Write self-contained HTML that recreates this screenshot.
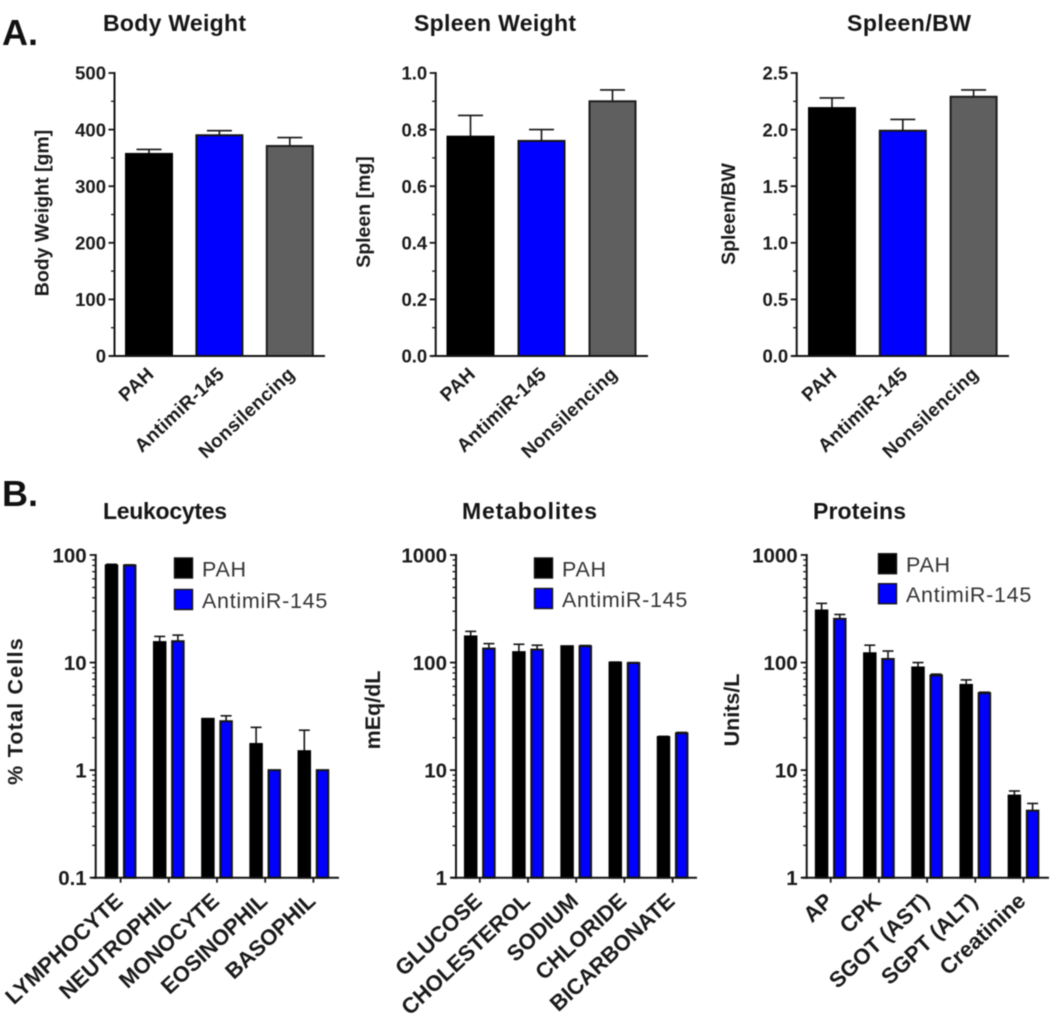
<!DOCTYPE html>
<html lang="en">
<head>
<meta charset="utf-8">
<title>Body and blood measurements</title>
<style>
html,body{margin:0;padding:0;background:#fff;}
svg{display:block;filter:blur(0.55px);font-family:"Liberation Sans",sans-serif;}
.panel{font-weight:700;font-size:36px;fill:#111;}
.title{font-weight:700;font-size:23px;fill:#151515;}
</style>
</head>
<body>
<svg id="figure" width="1050" height="1018" viewBox="0 0 1050 1018" xmlns="http://www.w3.org/2000/svg">
  <text class="panel" x="2" y="45">A.</text>
  <text class="panel" x="2" y="506">B.</text>
  <text class="title" x="103" y="31" textLength="143">Body Weight</text>
  <text class="title" x="414" y="31" textLength="162">Spleen Weight</text>
  <text class="title" x="847" y="31" textLength="124">Spleen/BW</text>
  <text class="title" x="103" y="519" textLength="124">Leukocytes</text>
  <text class="title" x="462" y="519" textLength="135">Metabolites</text>
  <text class="title" x="813" y="519" textLength="93">Proteins</text>
</svg>
<script>
// ---------- Data: panel A ----------
const groupCategories = ['PAH', 'AntimiR-145', 'Nonsilencing'];

const bodyValues = [357, 390, 371];
const bodyErrorTops = [365, 398, 386];
const bodyTicks = [0, 100, 200, 300, 400, 500];
const bodyTickLabels = ['0', '100', '200', '300', '400', '500'];

const spleenValues = [0.775, 0.76, 0.9];
const spleenErrorTops = [0.85, 0.8, 0.94];
const spleenTicks = [0, 0.2, 0.4, 0.6, 0.8, 1];
const spleenTickLabels = ['0.0', '0.2', '0.4', '0.6', '0.8', '1.0'];

const ratioValues = [2.19, 1.99, 2.29];
const ratioErrorTops = [2.28, 2.09, 2.35];
const ratioTicks = [0, 0.5, 1, 1.5, 2, 2.5];
const ratioTickLabels = ['0.0', '0.5', '1.0', '1.5', '2.0', '2.5'];

// ---------- Data: panel B ----------
const seriesNames = ['PAH', 'AntimiR-145'];

const leukocyteCategories = ['LYMPHOCYTE', 'NEUTROPHIL', 'MONOCYTE', 'EOSINOPHIL', 'BASOPHIL'];
const leukocytePah = [80, 15.5, 3, 1.75, 1.5];
const leukocytePahTops = [82, 17.5, 3, 2.5, 2.35];
const leukocyteAnti = [80, 15.8, 2.85, 1, 1];
const leukocyteAntiTops = [81, 18, 3.2, 1, 1];
const leukocyteTicks = [0.1, 1, 10, 100];
const leukocyteTickLabels = ['0.1', '1', '10', '100'];

const metaboliteCategories = ['GLUCOSE', 'CHOLESTEROL', 'SODIUM', 'CHLORIDE', 'BICARBONATE'];
const metabolitePah = [175, 125, 142, 100, 20.3];
const metabolitePahTops = [195, 148, 142, 101, 20.6];
const metaboliteAnti = [135, 132, 142, 99, 22];
const metaboliteAntiTops = [150, 145, 144, 100, 22.4];
const metaboliteTicks = [1, 10, 100, 1000];
const metaboliteTickLabels = ['1', '10', '100', '1000'];

const proteinCategories = ['AP', 'CPK', 'SGOT (AST)', 'SGPT (ALT)', 'Creatinine'];
const proteinPah = [305, 122, 90, 62, 5.8];
const proteinPahTops = [355, 145, 100, 69, 6.4];
const proteinAnti = [255, 108, 76, 52, 4.2];
const proteinAntiTops = [280, 128, 78, 53, 4.9];
const proteinTicks = [1, 10, 100, 1000];
const proteinTickLabels = ['1', '10', '100', '1000'];

// ---------- Drawing helpers ----------
const NS = 'http://www.w3.org/2000/svg';
const figure = document.getElementById('figure');
const INK = '#141414';

function make(tag, props, parent) {
  const el = document.createElementNS(NS, tag);
  for (const key in props) el.setAttribute(key, props[key]);
  parent.appendChild(el);
  return el;
}
function slug(s) {
  return String(s).toLowerCase().replace(/[^a-z0-9]+/g, '-').replace(/^-|-$/g, '');
}
function linearScale(min, max, bottom, top) {
  return v => bottom - (v - min) / (max - min) * (bottom - top);
}
function logScale(min, max, bottom, top) {
  return v => bottom - (Math.log10(v) - Math.log10(min)) / (Math.log10(max) - Math.log10(min)) * (bottom - top);
}

function drawAxes(g, cfg, y, minorValues) {
  const axis = make('line', {x1: cfg.axisX, x2: cfg.axisX, y1: cfg.top - 1, y2: cfg.bottom + 1, stroke: INK, 'stroke-width': 2}, g);
  
  
  const base = make('line', {x1: cfg.baseStart, x2: cfg.baseEnd, y1: cfg.bottom, y2: cfg.bottom, stroke: INK, 'stroke-width': 2}, g);
  
  

  cfg.ticks.forEach((t, i) => {
    const tick = make('line', {x1: cfg.axisX - 6, x2: cfg.axisX, y1: y(t), y2: y(t), stroke: INK, 'stroke-width': 1.8}, g);
    
    
    const label = make('text', {x: cfg.axisX - cfg.labelGap, y: y(t) + cfg.tickFont * 0.36, 'text-anchor': 'end', 'font-size': cfg.tickFont, 'font-weight': 700, fill: '#1a1a1a'}, g);
    
    
    label.textContent = cfg.tickLabels[i];
  });
  minorValues.forEach(v => {
    const minor = make('line', {x1: cfg.axisX - 3.5, x2: cfg.axisX, y1: y(v), y2: y(v), stroke: INK, 'stroke-width': 1.3}, g);
    
    
  });

  const cy = cfg.yTitleCenter;
  const yTitle = make('text', {transform: 'translate(' + cfg.yTitleX + ',' + cy + ') rotate(-90)', 'text-anchor': 'middle', 'font-size': cfg.yTitleFont, 'font-weight': 700, 'letter-spacing': cfg.yTitleSpacing, fill: '#1a1a1a'}, g);
  
  
  yTitle.textContent = cfg.yTitle;
}

function drawCategoryLabel(g, cfg, text, cx) {
  const ex = cx + cfg.labelDx;
  const ey = cfg.bottom + cfg.labelDy;
  const label = make('text', {transform: 'translate(' + ex + ',' + ey + ') rotate(-43)', 'text-anchor': 'end', 'font-size': cfg.catFont, 'font-weight': 700, 'letter-spacing': cfg.catSpacing, fill: '#1a1a1a'}, g);
  
  
  label.textContent = text;
}

function drawBar(g, name, cx, width, value, errorTop, fill, edge, y, bottom, capHalf) {
  const eTop = y(errorTop);
  const vTop = y(value);
  if (eTop < vTop - 0.2) {
    const stem = make('line', {x1: cx, x2: cx, y1: vTop, y2: eTop, stroke: INK, 'stroke-width': 1.6}, g);
    
    
    const cap = make('line', {x1: cx - capHalf, x2: cx + capHalf, y1: eTop, y2: eTop, stroke: INK, 'stroke-width': 1.6}, g);
    
    
  }
  const bar = make('rect', {x: cx - width / 2, y: vTop, width: width, height: bottom - vTop, fill: fill, stroke: edge, 'stroke-width': 2}, g);
  
  
}

function drawSingleChart(cfg, categories, values, tops) {
  const g = make('g', {}, figure);
  
  
  const y = linearScale(cfg.ticks[0], cfg.ticks[cfg.ticks.length - 1], cfg.bottom, cfg.top);
  const minors = [];
  for (let i = 0; i < cfg.ticks.length - 1; i++) minors.push((cfg.ticks[i] + cfg.ticks[i + 1]) / 2);
  const fills = ['#000000', '#0000ff', '#5f5f5f'];
  const edges = ['#000000', '#141414', '#1c1c1c'];
  categories.forEach((c, i) => {
    const cx = cfg.firstCenter + i * cfg.step;
    drawBar(g, cfg.name + '-' + slug(c), cx, cfg.barWidth, values[i], tops[i], fills[i], edges[i], y, cfg.bottom, 12.5);
    drawCategoryLabel(g, cfg, c, cx);
  });
  drawAxes(g, cfg, y, minors);
}

function drawGroupedChart(cfg, categories, pah, pahTops, anti, antiTops) {
  const g = make('g', {}, figure);
  
  
  const y = logScale(cfg.ticks[0], cfg.ticks[cfg.ticks.length - 1], cfg.bottom, cfg.top);
  const minors = [];
  for (let i = 0; i < cfg.ticks.length - 1; i++) {
    for (let m = 2; m <= 9; m++) minors.push(cfg.ticks[i] * m);
  }
  categories.forEach((c, i) => {
    const cx = cfg.firstCenter + i * cfg.step;
    drawBar(g, cfg.name + '-pah-' + slug(c), cx - 9.1, cfg.barWidth, pah[i], pahTops[i], '#000000', '#000000', y, cfg.bottom, 5.5);
    drawBar(g, cfg.name + '-antimir-' + slug(c), cx + 9.1, cfg.barWidth, anti[i], antiTops[i], '#0000ff', '#141414', y, cfg.bottom, 5.5);
    const tick = make('line', {x1: cx, x2: cx, y1: cfg.bottom, y2: cfg.bottom + 5, stroke: INK, 'stroke-width': 1.8}, g);
    
    
    drawCategoryLabel(g, cfg, c, cx);
  });
  drawAxes(g, cfg, y, minors);

  const fills = ['#000000', '#0000ff'];
  seriesNames.forEach((s, i) => {
    const swatch = make('rect', {x: cfg.legendX, y: cfg.legendY + i * cfg.legendStep, width: 18, height: 20, fill: fills[i], stroke: '#141414', 'stroke-width': 1.4}, g);
    
    
    const text = make('text', {x: cfg.legendX + 27.5, y: cfg.legendY + 18.5 + i * cfg.legendStep, 'font-size': 21.5, 'letter-spacing': 0.7, fill: '#333'}, g);
    
    
    text.textContent = s;
  });
}

// ---------- Panel A ----------
const singleStyle = {top: 73, bottom: 356, barWidth: 46, tickFont: 18.5, labelGap: 8.5, yTitleFont: 19.5, yTitleSpacing: 0, catFont: 19, catSpacing: 0.3, labelDx: 6, labelDy: 19.5};

drawSingleChart(Object.assign({}, singleStyle, {name: 'body-weight', axisX: 114.5, baseStart: 110, baseEnd: 325, firstCenter: 149, step: 70.4, ticks: bodyTicks, tickLabels: bodyTickLabels, yTitle: 'Body Weight [gm]', yTitleX: 48.5, yTitleCenter: 213}), groupCategories, bodyValues, bodyErrorTops);
drawSingleChart(Object.assign({}, singleStyle, {name: 'spleen-weight', axisX: 435.7, baseStart: 431, baseEnd: 648, firstCenter: 470.5, step: 71, ticks: spleenTicks, tickLabels: spleenTickLabels, yTitle: 'Spleen [mg]', yTitleX: 370, yTitleCenter: 212}), groupCategories, spleenValues, spleenErrorTops);
drawSingleChart(Object.assign({}, singleStyle, {name: 'spleen-bw', axisX: 796.7, baseStart: 792, baseEnd: 1009, firstCenter: 832, step: 70.8, ticks: ratioTicks, tickLabels: ratioTickLabels, yTitle: 'Spleen/BW', yTitleX: 735, yTitleCenter: 214}), groupCategories, ratioValues, ratioErrorTops);

// ---------- Panel B ----------
const groupedStyle = {top: 555, bottom: 877.7, step: 48.2, barWidth: 11.5, tickFont: 20.5, labelGap: 9, yTitleFont: 21.5, yTitleSpacing: 0, catFont: 22, catSpacing: 0, labelDx: 3.5, labelDy: 25};

drawGroupedChart(Object.assign({}, groupedStyle, {name: 'leukocytes', axisX: 95.7, baseStart: 92, baseEnd: 339, firstCenter: 120.6, ticks: leukocyteTicks, tickLabels: leukocyteTickLabels, yTitle: '% Total Cells', yTitleX: 22.7, yTitleCenter: 711, yTitleSpacing: 1.2, legendX: 174.5, legendY: 558, legendStep: 31.5}), leukocyteCategories, leukocytePah, leukocytePahTops, leukocyteAnti, leukocyteAntiTops);
drawGroupedChart(Object.assign({}, groupedStyle, {name: 'metabolites', axisX: 456, baseStart: 451, baseEnd: 697, firstCenter: 479.8, ticks: metaboliteTicks, tickLabels: metaboliteTickLabels, yTitle: 'mEq/dL', yTitleX: 380, yTitleCenter: 710, legendX: 534.5, legendY: 558, legendStep: 30.5}), metaboliteCategories, metabolitePah, metabolitePahTops, metaboliteAnti, metaboliteAntiTops);
drawGroupedChart(Object.assign({}, groupedStyle, {name: 'proteins', axisX: 806.7, baseStart: 802, baseEnd: 1049, firstCenter: 830.7, ticks: proteinTicks, tickLabels: proteinTickLabels, yTitle: 'Units/L', yTitleX: 739, yTitleCenter: 710, legendX: 878.5, legendY: 553.7, legendStep: 30}), proteinCategories, proteinPah, proteinPahTops, proteinAnti, proteinAntiTops);
</script>
</body>
</html>
